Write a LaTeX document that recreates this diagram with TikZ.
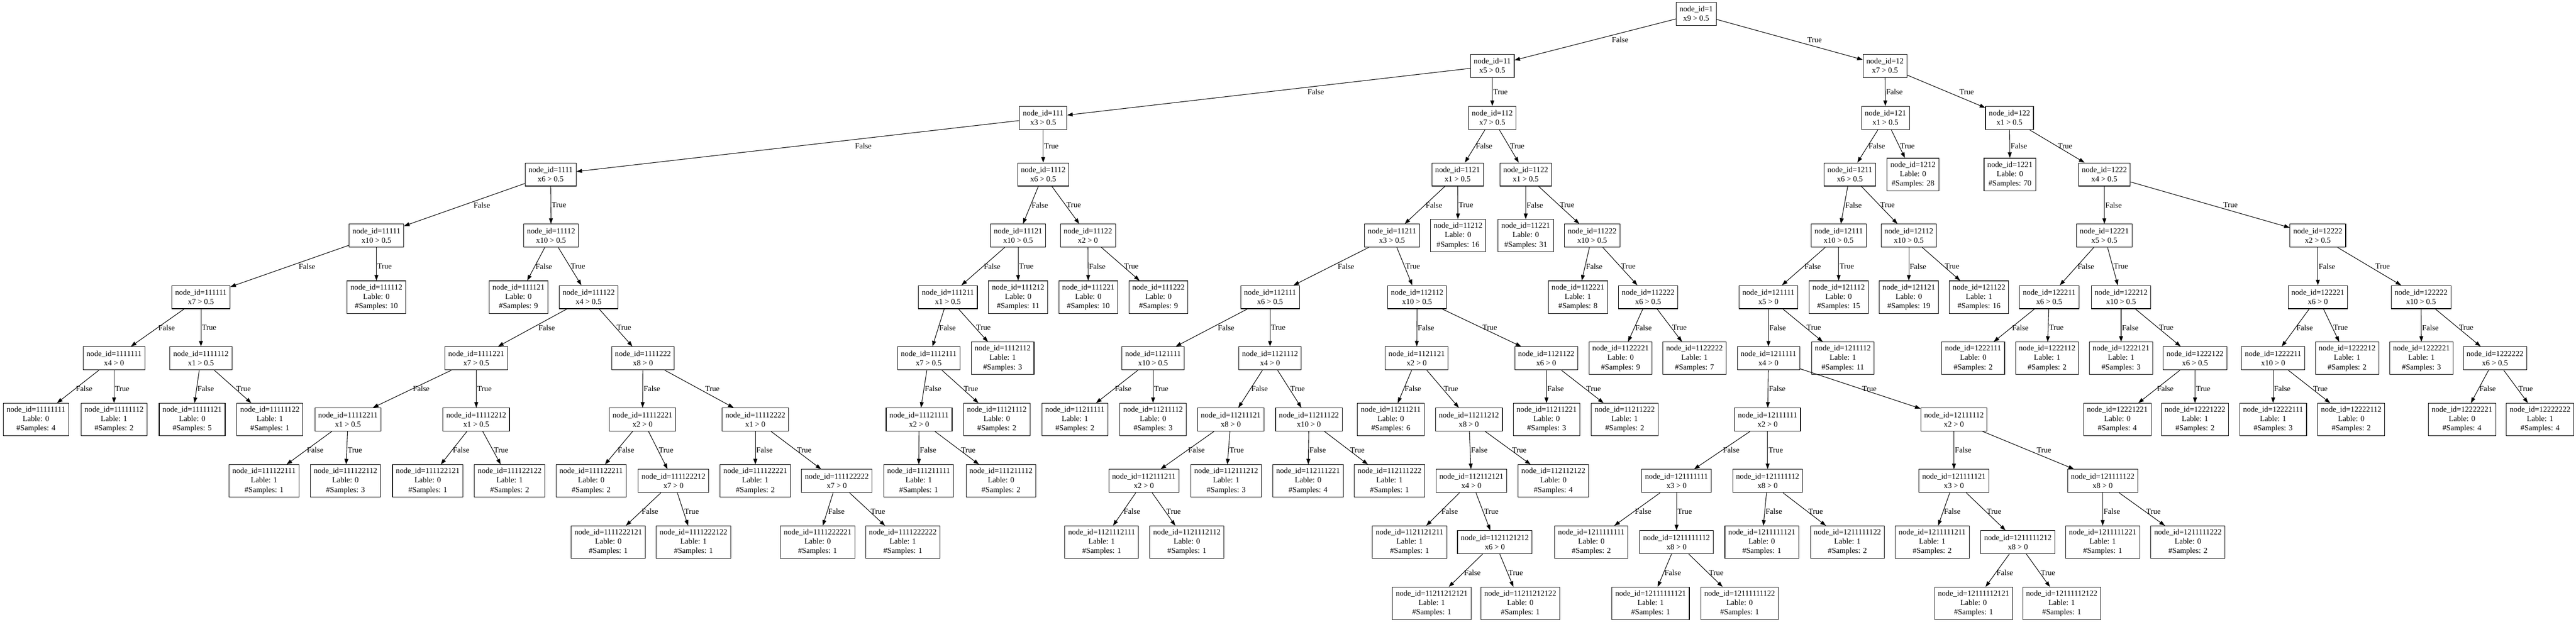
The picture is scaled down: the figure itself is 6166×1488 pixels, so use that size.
\documentclass[tikz,border=0pt]{standalone}
\usepackage{fontspec}
\setmainfont{Liberation Serif}
\usetikzlibrary{arrows.meta}

\begin{document}
\begin{tikzpicture}[x=1pt, y=-1pt,
    every node/.style={font=\fontsize{18.67}{22.4}\selectfont},
    split/.style={draw, rectangle, line width=1.33pt, align=center, inner xsep=8pt, inner ysep=0pt, minimum height=55.4pt},
    leaf/.style={split, minimum height=77.8pt},
    lbl/.style={anchor=west, inner sep=2pt},
    arc/.style={line width=1.33pt, -{Triangle[length=13.3pt, width=9.3pt]}}]
    \newcommand{\splitnode}[4]{\node[split] (n#1) at (#2, #3){node\_id=#1\\#4};}
    \newcommand{\leafnode}[5]{\node[leaf] (n#1) at (#2, #3){node\_id=#1\\Lable: #4\\\#Samples: #5};}
    \newcommand{\branch}[4][]{\draw[arc] (n#2) -- (n#3); \path (n#2.center) -- node[lbl, #1]{#4} (n#3.center);}
\useasboundingbox (0, 0) rectangle (6166, 1488);
% ranks 0 - 2
\splitnode{1}{4060}{33}{x9 > 0.5}
\splitnode{11}{3572}{157.5}{x5 > 0.5}
\splitnode{12}{4512}{157.5}{x7 > 0.5}
\splitnode{111}{2497}{282}{x3 > 0.5}
\splitnode{112}{3572}{282}{x7 > 0.5}
\splitnode{121}{4513}{282}{x1 > 0.5}
\splitnode{122}{4810}{282}{x1 > 0.5}
% rank 3
\splitnode{1111}{1318}{417.5}{x6 > 0.5}
\splitnode{1112}{2497}{417.5}{x6 > 0.5}
\splitnode{1121}{3489}{417.5}{x1 > 0.5}
\splitnode{1122}{3652}{417.5}{x1 > 0.5}
\splitnode{1211}{4428}{417.5}{x6 > 0.5}
\leafnode{1212}{4579}{417.5}{0}{28}
\leafnode{1221}{4811}{417.5}{0}{70}
\splitnode{1222}{5037}{417.5}{x4 > 0.5}
% rank 4
\splitnode{11111}{901}{564}{x10 > 0.5}
\splitnode{11112}{1319}{564}{x10 > 0.5}
\splitnode{11121}{2437}{564}{x10 > 0.5}
\splitnode{11122}{2604}{564}{x2 > 0}
\splitnode{11211}{3332}{564}{x3 > 0.5}
\leafnode{11212}{3490}{564}{0}{16}
\leafnode{11221}{3652}{564}{0}{31}
\splitnode{11222}{3811}{564}{x10 > 0.5}
\splitnode{12111}{4401}{564}{x10 > 0.5}
\splitnode{12112}{4569}{564}{x10 > 0.5}
\splitnode{12221}{5037}{564}{x5 > 0.5}
\splitnode{12222}{5548}{564}{x2 > 0.5}
% rank 5
\splitnode{111111}{481}{711}{x7 > 0.5}
\leafnode{111112}{901}{711}{0}{10}
\leafnode{111121}{1241}{711}{0}{9}
\splitnode{111122}{1409}{711}{x4 > 0.5}
\splitnode{111211}{2269}{711}{x1 > 0.5}
\leafnode{111212}{2437}{711}{0}{11}
\leafnode{111221}{2605}{711}{0}{10}
\leafnode{111222}{2773}{711}{0}{9}
\splitnode{112111}{3040}{711}{x6 > 0.5}
\splitnode{112112}{3392}{711}{x10 > 0.5}
\leafnode{112221}{3777}{711}{1}{8}
\splitnode{112222}{3945}{711}{x6 > 0.5}
\splitnode{121111}{4233}{711}{x5 > 0}
\leafnode{121112}{4401}{711}{0}{15}
\leafnode{121121}{4569}{711}{0}{19}
\leafnode{121122}{4737}{711}{1}{16}
\splitnode{122211}{4905}{711}{x6 > 0.5}
\splitnode{122212}{5077}{711}{x10 > 0.5}
\splitnode{122221}{5548}{711}{x6 > 0}
\splitnode{122222}{5795}{711}{x10 > 0.5}
% rank 6
\splitnode{1111111}{273}{857.5}{x4 > 0}
\splitnode{1111112}{481}{857.5}{x1 > 0.5}
\splitnode{1111221}{1140}{857.5}{x7 > 0.5}
\splitnode{1111222}{1539}{857.5}{x8 > 0}
\splitnode{1112111}{2223}{857.5}{x7 > 0.5}
\leafnode{1112112}{2400}{857.5}{1}{3}
\splitnode{1121111}{2760}{857.5}{x10 > 0.5}
\splitnode{1121112}{3040}{857.5}{x4 > 0}
\splitnode{1121121}{3391}{857.5}{x2 > 0}
\splitnode{1121122}{3701}{857.5}{x6 > 0}
\leafnode{1122221}{3879}{857.5}{0}{9}
\leafnode{1122222}{4056}{857.5}{1}{7}
\splitnode{1211111}{4233}{857.5}{x4 > 0}
\leafnode{1211112}{4411}{857.5}{1}{11}
\leafnode{1222111}{4723}{857.5}{0}{2}
\leafnode{1222112}{4900}{857.5}{1}{2}
\leafnode{1222121}{5077}{857.5}{1}{3}
\splitnode{1222122}{5254}{857.5}{x6 > 0.5}
\splitnode{1222211}{5441}{857.5}{x10 > 0}
\leafnode{1222212}{5618}{857.5}{1}{2}
\leafnode{1222221}{5796}{857.5}{1}{3}
\splitnode{1222222}{5972}{857.5}{x6 > 0.5}
% rank 7
\leafnode{11111111}{86}{1004}{0}{4}
\leafnode{11111112}{273}{1004}{1}{2}
\leafnode{11111121}{460}{1004}{0}{5}
\leafnode{11111122}{646}{1004}{1}{1}
\splitnode{11112211}{833}{1004}{x1 > 0.5}
\splitnode{11112212}{1140}{1004}{x1 > 0.5}
\splitnode{11112221}{1538}{1004}{x2 > 0}
\splitnode{11112222}{1808}{1004}{x1 > 0}
\splitnode{11121111}{2200}{1004}{x2 > 0}
\leafnode{11121112}{2386}{1004}{0}{2}
\leafnode{11211111}{2573}{1004}{1}{2}
\leafnode{11211112}{2760}{1004}{0}{3}
\splitnode{11211121}{2946}{1004}{x8 > 0}
\splitnode{11211122}{3133}{1004}{x10 > 0}
\leafnode{11211211}{3329}{1004}{0}{6}
\splitnode{11211212}{3516}{1004}{x8 > 0}
\leafnode{11211221}{3702}{1004}{0}{3}
\leafnode{11211222}{3889}{1004}{1}{2}
\splitnode{12111111}{4231}{1004}{x2 > 0}
\splitnode{12111112}{4677}{1004}{x2 > 0}
\leafnode{12221221}{5068}{1004}{0}{4}
\leafnode{12221222}{5254}{1004}{1}{2}
\leafnode{12222111}{5441}{1004}{1}{3}
\leafnode{12222112}{5628}{1004}{0}{2}
\leafnode{12222221}{5893}{1004}{0}{4}
\leafnode{12222222}{6080}{1004}{1}{4}
% rank 8
\leafnode{111122111}{632}{1151}{1}{1}
\leafnode{111122112}{827}{1151}{0}{3}
\leafnode{111122121}{1024}{1151}{0}{1}
\leafnode{111122122}{1220}{1151}{1}{2}
\leafnode{111122211}{1415}{1151}{0}{2}
\splitnode{111122212}{1612}{1151}{x7 > 0}
\leafnode{111122221}{1808}{1151}{1}{2}
\splitnode{111122222}{2003}{1151}{x7 > 0}
\leafnode{111211111}{2199}{1151}{1}{1}
\leafnode{111211112}{2396}{1151}{0}{2}
\splitnode{112111211}{2738}{1151}{x2 > 0}
\leafnode{112111212}{2935}{1151}{1}{3}
\leafnode{112111221}{3131}{1151}{0}{4}
\leafnode{112111222}{3326}{1151}{1}{1}
\splitnode{112112121}{3522}{1151}{x4 > 0}
\leafnode{112112122}{3718}{1151}{0}{4}
\splitnode{121111111}{4013}{1151}{x3 > 0}
\splitnode{121111112}{4231}{1151}{x8 > 0}
\splitnode{121111121}{4677}{1151}{x3 > 0}
\splitnode{121111122}{5033}{1151}{x8 > 0}
% rank 9
\leafnode{1111222121}{1456}{1297.5}{0}{1}
\leafnode{1111222122}{1660}{1297.5}{1}{1}
\leafnode{1111222221}{1957}{1297.5}{0}{1}
\leafnode{1111222222}{2161}{1297.5}{1}{1}
\leafnode{1121112111}{2637}{1297.5}{1}{1}
\leafnode{1121112112}{2841}{1297.5}{0}{1}
\leafnode{1121121211}{3374}{1297.5}{1}{1}
\splitnode{1121121212}{3578}{1297.5}{x6 > 0}
\leafnode{1211111111}{3809}{1297.5}{0}{2}
\splitnode{1211111112}{4013}{1297.5}{x8 > 0}
\leafnode{1211111121}{4217}{1297.5}{0}{1}
\leafnode{1211111122}{4422}{1297.5}{1}{2}
\leafnode{1211111211}{4625}{1297.5}{1}{2}
\splitnode{1211111212}{4830}{1297.5}{x8 > 0}
\leafnode{1211111221}{5033}{1297.5}{1}{1}
\leafnode{1211111222}{5237}{1297.5}{0}{2}
% rank 10
\leafnode{11211212121}{3427}{1444}{1}{1}
\leafnode{11211212122}{3639}{1444}{0}{1}
\leafnode{12111111121}{3951}{1444}{1}{1}
\leafnode{12111111122}{4164}{1444}{0}{1}
\leafnode{12111112121}{4724}{1444}{0}{1}
\leafnode{12111112122}{4935}{1444}{1}{1}
% branches
\branch[xshift=40pt]{1}{11}{False}
\branch[xshift=38pt]{1}{12}{True}
\branch[xshift=93pt]{11}{111}{False}
\branch{11}{112}{True}
\branch{12}{121}{False}
\branch[xshift=27pt]{12}{122}{True}
\branch[xshift=137pt]{111}{1111}{False}
\branch{111}{1112}{True}
\branch{112}{1121}{False}
\branch{112}{1122}{True}
\branch{121}{1211}{False}
\branch{121}{1212}{True}
\branch{122}{1221}{False}
\branch{122}{1222}{True}
\branch[xshift=22pt]{1111}{11111}{False}
\branch{1111}{11112}{True}
\branch{1112}{11121}{False}
\branch{1112}{11122}{True}
\branch{1121}{11211}{False}
\branch{1121}{11212}{True}
\branch{1122}{11221}{False}
\branch{1122}{11222}{True}
\branch{1211}{12111}{False}
\branch{1211}{12112}{True}
\branch{1222}{12221}{False}
\branch[xshift=27pt]{1222}{12222}{True}
\branch[xshift=22pt]{11111}{111111}{False}
\branch{11111}{111112}{True}
\branch{11112}{111121}{False}
\branch{11112}{111122}{True}
\branch{11121}{111211}{False}
\branch{11121}{111212}{True}
\branch{11122}{111221}{False}
\branch{11122}{111222}{True}
\branch[xshift=14pt]{11211}{112111}{False}
\branch{11211}{112112}{True}
\branch{11222}{112221}{False}
\branch{11222}{112222}{True}
\branch{12111}{121111}{False}
\branch{12111}{121112}{True}
\branch{12112}{121121}{False}
\branch{12112}{121122}{True}
\branch{12221}{122211}{False}
\branch{12221}{122212}{True}
\branch{12222}{122221}{False}
\branch[xshift=12pt]{12222}{122222}{True}
\branch{111111}{1111111}{False}
\branch{111111}{1111112}{True}
\branch[xshift=12pt]{111122}{1111221}{False}
\branch{111122}{1111222}{True}
\branch{111211}{1112111}{False}
\branch{111211}{1112112}{True}
\branch[xshift=13pt]{112111}{1121111}{False}
\branch{112111}{1121112}{True}
\branch{112112}{1121121}{False}
\branch{112112}{1121122}{True}
\branch{112222}{1122221}{False}
\branch{112222}{1122222}{True}
\branch{121111}{1211111}{False}
\branch{121111}{1211112}{True}
\branch{122211}{1222111}{False}
\branch{122211}{1222112}{True}
\branch{122212}{1222121}{False}
\branch{122212}{1222122}{True}
\branch{122221}{1222211}{False}
\branch{122221}{1222212}{True}
\branch{122222}{1222221}{False}
\branch{122222}{1222222}{True}
\branch{1111111}{11111111}{False}
\branch{1111111}{11111112}{True}
\branch{1111112}{11111121}{False}
\branch{1111112}{11111122}{True}
\branch{1111221}{11112211}{False}
\branch{1111221}{11112212}{True}
\branch{1111222}{11112221}{False}
\branch[xshift=12pt]{1111222}{11112222}{True}
\branch{1112111}{11121111}{False}
\branch{1112111}{11121112}{True}
\branch{1121111}{11211111}{False}
\branch{1121111}{11211112}{True}
\branch{1121112}{11211121}{False}
\branch{1121112}{11211122}{True}
\branch{1121121}{11211211}{False}
\branch{1121121}{11211212}{True}
\branch{1121122}{11211221}{False}
\branch{1121122}{11211222}{True}
\branch{1211111}{12111111}{False}
\branch{1211111}{12111112}{True}
\branch{1222122}{12221221}{False}
\branch{1222122}{12221222}{True}
\branch{1222211}{12222111}{False}
\branch{1222211}{12222112}{True}
\branch{1222222}{12222221}{False}
\branch{1222222}{12222222}{True}
\branch{11112211}{111122111}{False}
\branch{11112211}{111122112}{True}
\branch{11112212}{111122121}{False}
\branch{11112212}{111122122}{True}
\branch{11112221}{111122211}{False}
\branch{11112221}{111122212}{True}
\branch{11112222}{111122221}{False}
\branch{11112222}{111122222}{True}
\branch{11121111}{111211111}{False}
\branch{11121111}{111211112}{True}
\branch{11211121}{112111211}{False}
\branch{11211121}{112111212}{True}
\branch{11211122}{112111221}{False}
\branch{11211122}{112111222}{True}
\branch{11211212}{112112121}{False}
\branch{11211212}{112112122}{True}
\branch{12111111}{121111111}{False}
\branch{12111111}{121111112}{True}
\branch{12111112}{121111121}{False}
\branch[xshift=18pt]{12111112}{121111122}{True}
\branch{111122212}{1111222121}{False}
\branch{111122212}{1111222122}{True}
\branch{111122222}{1111222221}{False}
\branch{111122222}{1111222222}{True}
\branch{112111211}{1121112111}{False}
\branch{112111211}{1121112112}{True}
\branch{112112121}{1121121211}{False}
\branch{112112121}{1121121212}{True}
\branch{121111111}{1211111111}{False}
\branch{121111111}{1211111112}{True}
\branch{121111112}{1211111121}{False}
\branch{121111112}{1211111122}{True}
\branch{121111121}{1211111211}{False}
\branch{121111121}{1211111212}{True}
\branch{121111122}{1211111221}{False}
\branch{121111122}{1211111222}{True}
\branch{1121121212}{11211212121}{False}
\branch{1121121212}{11211212122}{True}
\branch{1211111112}{12111111121}{False}
\branch{1211111112}{12111111122}{True}
\branch{1211111212}{12111112121}{False}
\branch{1211111212}{12111112122}{True}
\end{tikzpicture}
\end{document}
